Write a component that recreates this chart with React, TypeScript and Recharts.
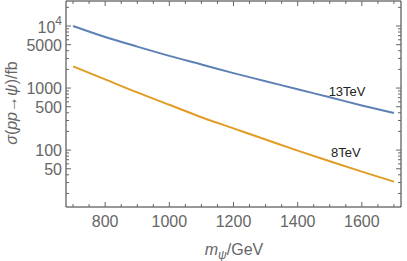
import { LineChart, Line, XAxis, YAxis, ReferenceDot } from 'recharts'

// (log y axis)
const masses = [700, 800, 900, 1000, 1100, 1200, 1300, 1400, 1500, 1600, 1700]
const sigma13 = [10000, 6650, 4650, 3300, 2400, 1740, 1290, 955, 710, 525, 396]
const sigma8 = [2240, 1380, 850, 537, 339, 224, 148, 98, 66, 45, 31]

const xTicks = [700, 750, 800, 850, 900, 950, 1000, 1050, 1100, 1150, 1200, 1250, 1300, 1350, 1400, 1450, 1500, 1550, 1600, 1650, 1700]
const xLabelled = [800, 1000, 1200, 1400, 1600]
const yTicks = [20, 30, 40, 50, 60, 70, 80, 90, 100, 200, 300, 400, 500, 600, 700, 800, 900, 1000, 2000, 3000, 4000, 5000, 6000, 7000, 8000, 9000, 10000, 20000]
const yLabelled = [50, 100, 500, 1000, 5000, 10000]

const curveLabels = [
  { text: '13TeV', m: 1554, s: 890 },
  { text: '8TeV', m: 1550, s: 92 },
]

const data = masses.map((m, i) => ({ m, s13: sigma13[i], s8: sigma8[i] }))

const FRAME = '#333'
const TICK = '#666'
const LABEL = '#666'

const Tick = (props: any) => {
  const { x, y, payload, side } = props
  const v = payload.value
  const horiz = side === 'bottom' || side === 'top'
  const major = horiz ? xLabelled.includes(v) : yLabelled.includes(v)
  const len = major ? 5 : 3
  let line
  if (side === 'bottom') line = <line x1={x} y1={y} x2={x} y2={y - len} stroke={TICK} />
  else if (side === 'top') line = <line x1={x} y1={y} x2={x} y2={y + len} stroke={TICK} />
  else if (side === 'left') line = <line x1={x} y1={y} x2={x + len} y2={y} stroke={TICK} />
  else line = <line x1={x} y1={y} x2={x - len} y2={y} stroke={TICK} />

  let label = null
  if (major && side === 'bottom') {
    label = (
      <text x={x} y={y + 20} textAnchor="middle" fill={LABEL} fontSize={16}>
        {v}
      </text>
    )
  }
  if (major && side === 'left') {
    label =
      v === 10000 ? (
        <text x={x - 4} y={y + 7} textAnchor="end" fill={LABEL} fontSize={16}>
          10<tspan dy={-8} fontSize={12}>4</tspan>
        </text>
      ) : (
        <text x={x - 4} y={y + 6} textAnchor="end" fill={LABEL} fontSize={16}>
          {v}
        </text>
      )
  }
  return (
    <g>
      {line}
      {label}
    </g>
  )
}

const YTitle = () => (
  <text
    transform="translate(17,103) rotate(-90)"
    textAnchor="middle"
    fill={LABEL}
    fontSize={16}
  >
    <tspan fontStyle="italic">σ</tspan>(<tspan fontStyle="italic">pp</tspan>→<tspan fontStyle="italic">ψ</tspan>)/fb
  </text>
)

const XTitle = () => (
  <text x={234} y={255} textAnchor="middle" fill={LABEL} fontSize={16}>
    <tspan fontStyle="italic">m</tspan>
    <tspan fontStyle="italic" fontSize={12} dy={4}>ψ</tspan>
    <tspan dy={-4}>/GeV</tspan>
  </text>
)

export default function App() {
  return (
    <div style={{ position: 'absolute', left: 0, top: 0, width: 407, height: 261, background: '#fff' }}>
      <LineChart
        width={407}
        height={261}
        data={data}
        margin={{ top: 0, right: 5, left: 0, bottom: 0 }}
        style={{ fontFamily: '"Liberation Sans", Arial, sans-serif' }}
      >
        <XAxis
          xAxisId="b"
          dataKey="m"
          type="number"
          domain={[678, 1722]}
          allowDataOverflow
          ticks={xTicks}
          interval={0}
          height={54}
          tickSize={0}
          tickMargin={0}
          tickLine={false}
          axisLine={{ stroke: FRAME }}
          tick={<Tick side="bottom" />}
          label={{ content: () => <XTitle /> }}
        />
        <XAxis
          xAxisId="t"
          orientation="top"
          dataKey="m"
          type="number"
          domain={[678, 1722]}
          allowDataOverflow
          ticks={xTicks}
          interval={0}
          height={1}
          tickSize={0}
          tickMargin={0}
          tickLine={false}
          axisLine={{ stroke: FRAME }}
          tick={<Tick side="top" />}
        />
        <YAxis
          yAxisId="l"
          scale="log"
          type="number"
          domain={[12.1, 25300]}
          allowDataOverflow
          ticks={yTicks}
          interval={0}
          width={66}
          tickSize={0}
          tickMargin={0}
          tickLine={false}
          axisLine={{ stroke: FRAME }}
          tick={<Tick side="left" />}
          label={{ content: () => <YTitle /> }}
        />
        <YAxis
          yAxisId="r"
          orientation="right"
          scale="log"
          type="number"
          domain={[12.1, 25300]}
          allowDataOverflow
          ticks={yTicks}
          interval={0}
          width={1}
          tickSize={0}
          tickMargin={0}
          tickLine={false}
          axisLine={{ stroke: FRAME }}
          tick={<Tick side="right" />}
        />
        <Line
          xAxisId="b"
          yAxisId="l"
          type="monotone"
          dataKey="s13"
          stroke="#5e81b5"
          strokeWidth={2}
          dot={false}
          isAnimationActive={false}
        />
        <Line
          xAxisId="b"
          yAxisId="l"
          type="monotone"
          dataKey="s8"
          stroke="#e19c24"
          strokeWidth={2}
          dot={false}
          isAnimationActive={false}
        />
        {curveLabels.map((c) => (
          <ReferenceDot
            key={c.text}
            xAxisId="b"
            yAxisId="l"
            x={c.m}
            y={c.s}
            r={0}
            stroke="none"
            fill="none"
            label={{ value: c.text, position: 'center', fill: '#222', fontSize: 13 }}
          />
        ))}
      </LineChart>
    </div>
  )
}
